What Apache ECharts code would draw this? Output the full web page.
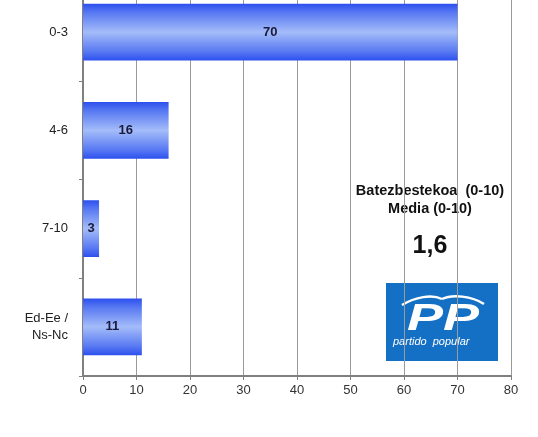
<!DOCTYPE html>
<html><head><meta charset="utf-8">
<script src="https://cdn.jsdelivr.net/npm/echarts@6/dist/echarts.min.js"></script>
<style>html,body{margin:0;padding:0;background:#fff;overflow:hidden}#c{position:absolute;left:0;top:-17px;width:538px;height:454px}</style>
</head><body><div id="c"></div>
<script>
const categories = ['0-3', '4-6', '7-10', 'Ed-Ee /\nNs-Nc'];
const values = [70, 16, 3, 11];
const xTicks = [0, 10, 20, 30, 40, 50, 60, 70, 80];
const titleLines = ['Batezbestekoa  (0-10)', 'Media (0-10)'];
const meanValue = '1,6';

const OFF = 17; // container is shifted up so the first band is cut like the reference
const chart = echarts.init(document.getElementById('c'), null, {renderer: 'canvas'});
const barGrad = new echarts.graphic.LinearGradient(0, 0, 0, 1, [
  {offset: 0, color: '#2c4fee'},
  {offset: 0.15, color: '#5677f2'},
  {offset: 0.5, color: '#a4bcf9'},
  {offset: 0.85, color: '#5677f2'},
  {offset: 1, color: '#2c4fee'}
]);
chart.setOption({
  animation: false,
  grid: {left: 83, right: 27, top: 0, bottom: 61, containLabel: false},
  xAxis: {
    type: 'value', min: xTicks[0], max: xTicks[xTicks.length - 1], interval: 10,
    axisLine: {show: true, lineStyle: {color: '#808080', width: 2}},
    axisTick: {show: true, length: 4, lineStyle: {color: '#808080'}},
    axisLabel: {color: '#333', fontFamily: 'Liberation Sans, Arial', fontSize: 13, margin: 8},
    splitLine: {show: true, lineStyle: {color: '#9a9a9a', width: 1}}
  },
  yAxis: {
    type: 'category', data: categories, inverse: true,
    axisLine: {show: true, lineStyle: {color: '#808080', width: 2}},
    axisTick: {show: true, length: 4, lineStyle: {color: '#808080'}},
    axisLabel: {color: '#222', fontFamily: 'Liberation Sans, Arial', fontSize: 13, margin: 15, align: 'right', lineHeight: 17}
  },
  series: [{
    type: 'bar', data: values, barCategoryGap: '42%',
    itemStyle: {color: barGrad},
    label: {show: true, position: 'inside', color: '#1a1a3a', fontWeight: 'bold', fontSize: 13, fontFamily: 'Liberation Sans, Arial'}
  }],
  graphic: [
    {type: 'text', x: 430, y: 182 + OFF, style: {text: titleLines.join('\n'), textAlign: 'center', fill: '#111', font: 'bold 14.5px "Liberation Sans", Arial', lineHeight: 18}},
    {type: 'text', x: 430, y: 234 + OFF, style: {text: meanValue, textAlign: 'center', fill: '#111', font: 'bold 25px "Liberation Sans", Arial'}},
    {type: 'rect', shape: {x: 386, y: 283 + OFF, width: 112, height: 78}, style: {fill: '#1470c4'}},
    {type: 'text', x: 443, y: 320 + OFF, scaleX: 1.5, style: {text: 'PP', textAlign: 'center', textVerticalAlign: 'middle', fill: '#fff', font: 'italic bold 36px "Liberation Sans", Arial'}},
    {type: 'text', x: 393, y: 336 + OFF, style: {text: 'partido  popular', fill: '#fff', font: 'italic 11px "Liberation Sans", Arial'}},
    {type: 'bezierCurve', shape: {x1: 402, y1: 305 + OFF, x2: 442, y2: 299 + OFF, cpx1: 415, cpy1: 297 + OFF, cpx2: 432, cpy2: 294 + OFF}, style: {stroke: '#fff', lineWidth: 2.5, fill: null}},
    {type: 'bezierCurve', shape: {x1: 442, y1: 299 + OFF, x2: 484, y2: 304 + OFF, cpx1: 452, cpy1: 294 + OFF, cpx2: 472, cpy2: 296 + OFF}, style: {stroke: '#fff', lineWidth: 2.5, fill: null}}
  ]
});
</script></body></html>
